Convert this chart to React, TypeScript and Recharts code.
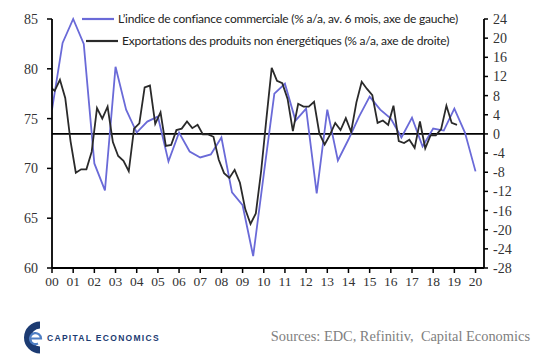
import { Legend, Line, LineChart, ReferenceLine, XAxis, YAxis } from "recharts";

// EDC trade confidence index, semi-annual from 2000 H1 (left axis)
const confidence = [
  75.9, 82.6, 85.0, 82.5, 70.5, 67.8, 80.2, 75.9, 73.6, 74.7,
  75.2, 70.7, 73.6, 71.7, 71.1, 71.4, 73.1, 67.6, 66.3, 61.2,
  69.4, 77.5, 78.5, 74.8, 76.0, 67.5, 75.9, 70.8, 72.9, 75.2,
  77.2, 75.9, 75.0, 73.1, 75.1, 72.2, 74.0, 73.8, 76.0, 73.6,
  69.7,
];

// non-energy exports, % y/y, quarterly (right axis)
const nonEnergyExports = [
  10.0, 9.0, 11.3, 7.5, -1.5, -8.1, -7.4, -7.4, -3.7, 5.4,
  3.2, 5.7, -1.7, -4.6, -5.6, -7.8, 1.1, 2.2, 9.7, 10.1,
  2.1, 4.5, -2.5, -2.3, 0.8, 1.1, 2.6, 1.2, 1.9, -0.1,
  -0.1, -0.6, -5.4, -8.2, -9.2, -7.5, -10.2, -15.7, -18.8, -16.6,
  -7.8, 3.2, 13.8, 11.1, 10.6, 7.3, 0.6, 6.3, 5.7, 5.7,
  6.7, 0.1, -2.2, -0.2, 2.3, 0.8, 3.3, 0.4, 6.6, 10.9,
  9.4, 8.1, 2.3, 2.8, 1.9, 5.9, -1.5, -1.9, -1.2, -2.9,
  2.6, -3.0, -0.3, -0.3, 1.0, 5.9, 2.3, 1.9,
];

const yearLabels = [
  "00", "01", "02", "03", "04", "05", "06", "07", "08", "09", "10",
  "11", "12", "13", "14", "15", "16", "17", "18", "19", "20",
];
const leftTicks = [60, 65, 70, 75, 80, 85];
const rightTicks = [-28, -24, -20, -16, -12, -8, -4, 0, 4, 8, 12, 16, 20, 24];

const confidenceName = "L\u2019indice de confiance commerciale (% a/a, av. 6 mois, axe de gauche)";
const exportsName = "Exportations des produits non \u00e9nerg\u00e9tiques (% a/a, axe de droite)";

const BLUE = "#6a6ad8";
const DARK = "#2a2a2a";
const NAVY = "#1c3b72";

const confidenceData = confidence.map((v, i) => ({ t: 2000 + i / 2, v }));
const exportsData = nonEnergyExports.map((v, i) => ({ t: 1999.875 + i / 4, v }));
const yearTicks = yearLabels.map((_, i) => 2000 + i);

const tickFont = { fontSize: 14, fill: "#333", fontFamily: "Liberation Serif" };
const axisLine = { stroke: "#000", strokeWidth: 1.8 };
const tickLine = { stroke: "#000", strokeWidth: 1.5 };

function LegendBox() {
  const rows = [
    { name: confidenceName, color: BLUE, indent: 0 },
    { name: exportsName, color: DARK, indent: 4 },
  ];
  return (
    <div style={{ fontFamily: "Lato", fontSize: 12, letterSpacing: -0.23, color: "#222", lineHeight: "22px" }}>
      {rows.map((r) => (
        <div key={r.name} style={{ display: "flex", alignItems: "center", paddingLeft: r.indent, whiteSpace: "nowrap" }}>
          <svg width={32} height={4} style={{ marginRight: 4 }}>
            <line x1={0} y1={2} x2={32} y2={2} stroke={r.color} strokeWidth={2.2} />
          </svg>
          <span>{r.name}</span>
        </div>
      ))}
    </div>
  );
}

function Logo() {
  return (
    <svg width={170} height={36} style={{ position: "absolute", left: 12, top: 319 }}>
      <path d="M 28 6 A 12.5 12.5 0 1 0 28 31" fill="none" stroke={NAVY} strokeWidth={7} />
      <path d="M 18 19.5 L 29 19.5 A 5.5 5.5 0 1 0 26 24.5" fill="none" stroke="#4f7fc4" strokeWidth={2.2} />
      <text x={35} y={21.5} fill={NAVY} fontSize={8.5} fontWeight={700} letterSpacing={1.3} fontFamily="Liberation Sans">
        CAPITAL ECONOMICS
      </text>
    </svg>
  );
}

export default function App() {
  return (
    <div style={{ position: "absolute", left: 0, top: 0, width: 540, height: 360, background: "#fff" }}>
      <LineChart width={540} height={292} margin={{ top: 19, right: 16, left: 0, bottom: 0 }}>
        <XAxis
          dataKey="t"
          type="number"
          domain={[2000, 2020.4]}
          allowDataOverflow
          ticks={yearTicks}
          tickFormatter={(t: number) => yearLabels[Math.round(t) - 2000]}
          interval={0}
          height={24}
          tickSize={5}
          tickMargin={3}
          tick={{ ...tickFont, fontSize: 13.5 }}
          axisLine={axisLine}
          tickLine={tickLine}
        />
        <YAxis
          yAxisId="left"
          domain={[60, 85]}
          ticks={leftTicks}
          interval={0}
          width={52}
          tickSize={5}
          tickMargin={9}
          tick={tickFont}
          axisLine={axisLine}
          tickLine={tickLine}
        />
        <YAxis
          yAxisId="right"
          orientation="right"
          domain={[-28, 24]}
          ticks={rightTicks}
          interval={0}
          width={40}
          tickSize={4}
          tickMargin={5}
          tick={tickFont}
          axisLine={axisLine}
          tickLine={tickLine}
        />
        <ReferenceLine yAxisId="right" y={0} stroke="#000" strokeWidth={1.6} />
        <Line
          yAxisId="left"
          data={confidenceData}
          dataKey="v"
          name={confidenceName}
          stroke={BLUE}
          strokeWidth={1.8}
          dot={false}
          isAnimationActive={false}
        />
        <Line
          yAxisId="right"
          data={exportsData}
          dataKey="v"
          name={exportsName}
          stroke={DARK}
          strokeWidth={1.8}
          dot={false}
          isAnimationActive={false}
        />
        <Legend
          layout="vertical"
          align="center"
          verticalAlign="middle"
          content={() => <LegendBox />}
          wrapperStyle={{ top: 8, left: 82, width: 400, height: 44 }}
        />
      </LineChart>
      <Logo />
      <div
        style={{
          position: "absolute",
          right: 10,
          top: 328,
          fontFamily: "Liberation Serif",
          fontSize: 14.4,
          color: "#808080",
          whiteSpace: "nowrap",
        }}
      >
        Sources: EDC, Refinitiv,&nbsp; Capital Economics
      </div>
    </div>
  );
}
